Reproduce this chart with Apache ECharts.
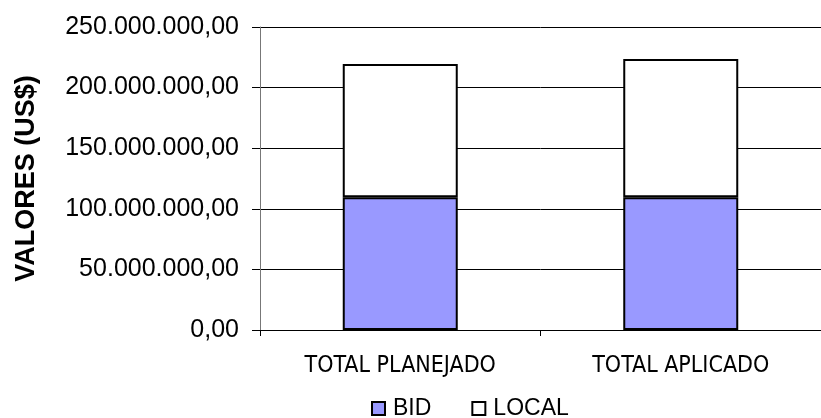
<!DOCTYPE html>
<html>
<head>
<meta charset="utf-8">
<script src="https://cdn.jsdelivr.net/npm/echarts@6/dist/echarts.min.js"></script>
<style>
  html, body { margin: 0; padding: 0; background: #fff; }
  #chart { width: 821px; height: 418px; }
</style>
</head>
<body>
<div id="chart"></div>
<script>
const categories = ['TOTAL PLANEJADO', 'TOTAL APLICADO'];
const bidValues = [109500000, 109500000];
const localValues = [110000000, 114100000];
const yTicks = { min: 0, max: 250000000, interval: 50000000 };

// 250000000 -> "250.000.000,00"
const formatBR = (v) => {
    const int = Math.round(v).toString().replace(/\B(?=(\d{3})+(?!\d))/g, '.');
    return int + ',00';
};

const font = 'Liberation Sans, Arial, sans-serif';
const narrow = 'DejaVu Sans Condensed, Liberation Sans, sans-serif';
const chart = echarts.init(document.getElementById('chart'));

const option = {
    animation: false,
    backgroundColor: '#fff',
    grid: {
        left: 260,
        top: 27,
        width: 580,
        height: 303
    },
    legend: {
        data: ['BID', 'LOCAL'],
        left: 366,
        top: 392,
        icon: 'rect',
        itemWidth: 13,
        itemHeight: 13,
        itemGap: 40,
        textStyle: { fontFamily: font, fontSize: 23, color: '#000', padding: [0, 0, 0, 3] }
    },
    xAxis: {
        type: 'category',
        data: categories,
        axisLine: { lineStyle: { color: '#000', width: 1 } },
        axisTick: { show: true, length: 6, lineStyle: { color: '#000' } },
        axisLabel: {
            margin: 25,
            fontFamily: narrow,
            fontSize: 23,
            color: '#000'
        }
    },
    yAxis: {
        type: 'value',
        min: yTicks.min,
        max: yTicks.max,
        interval: yTicks.interval,
        name: 'VALORES (US$)',
        nameLocation: 'middle',
        nameRotate: 90,
        nameGap: 220,
        nameTextStyle: { fontFamily: font, fontSize: 27, fontWeight: 'bold', color: '#000' },
        axisLine: { show: true, lineStyle: { color: '#777', width: 1 } },
        axisTick: { show: true, length: 8, lineStyle: { color: '#000' } },
        axisLabel: {
            margin: 21,
            fontFamily: font,
            fontSize: 25,
            color: '#000',
            formatter: formatBR
        },
        splitLine: { show: true, lineStyle: { color: '#000', width: 1 } }
    },
    series: [
        {
            name: 'BID',
            type: 'bar',
            stack: 'total',
            barWidth: 115,
            data: bidValues,
            itemStyle: { color: '#9999FF', borderColor: '#000', borderWidth: 2 }
        },
        {
            name: 'LOCAL',
            type: 'bar',
            stack: 'total',
            barWidth: 115,
            data: localValues,
            itemStyle: { color: '#fff', borderColor: '#000', borderWidth: 2 }
        }
    ]
};

chart.setOption(option);
</script>
</body>
</html>
